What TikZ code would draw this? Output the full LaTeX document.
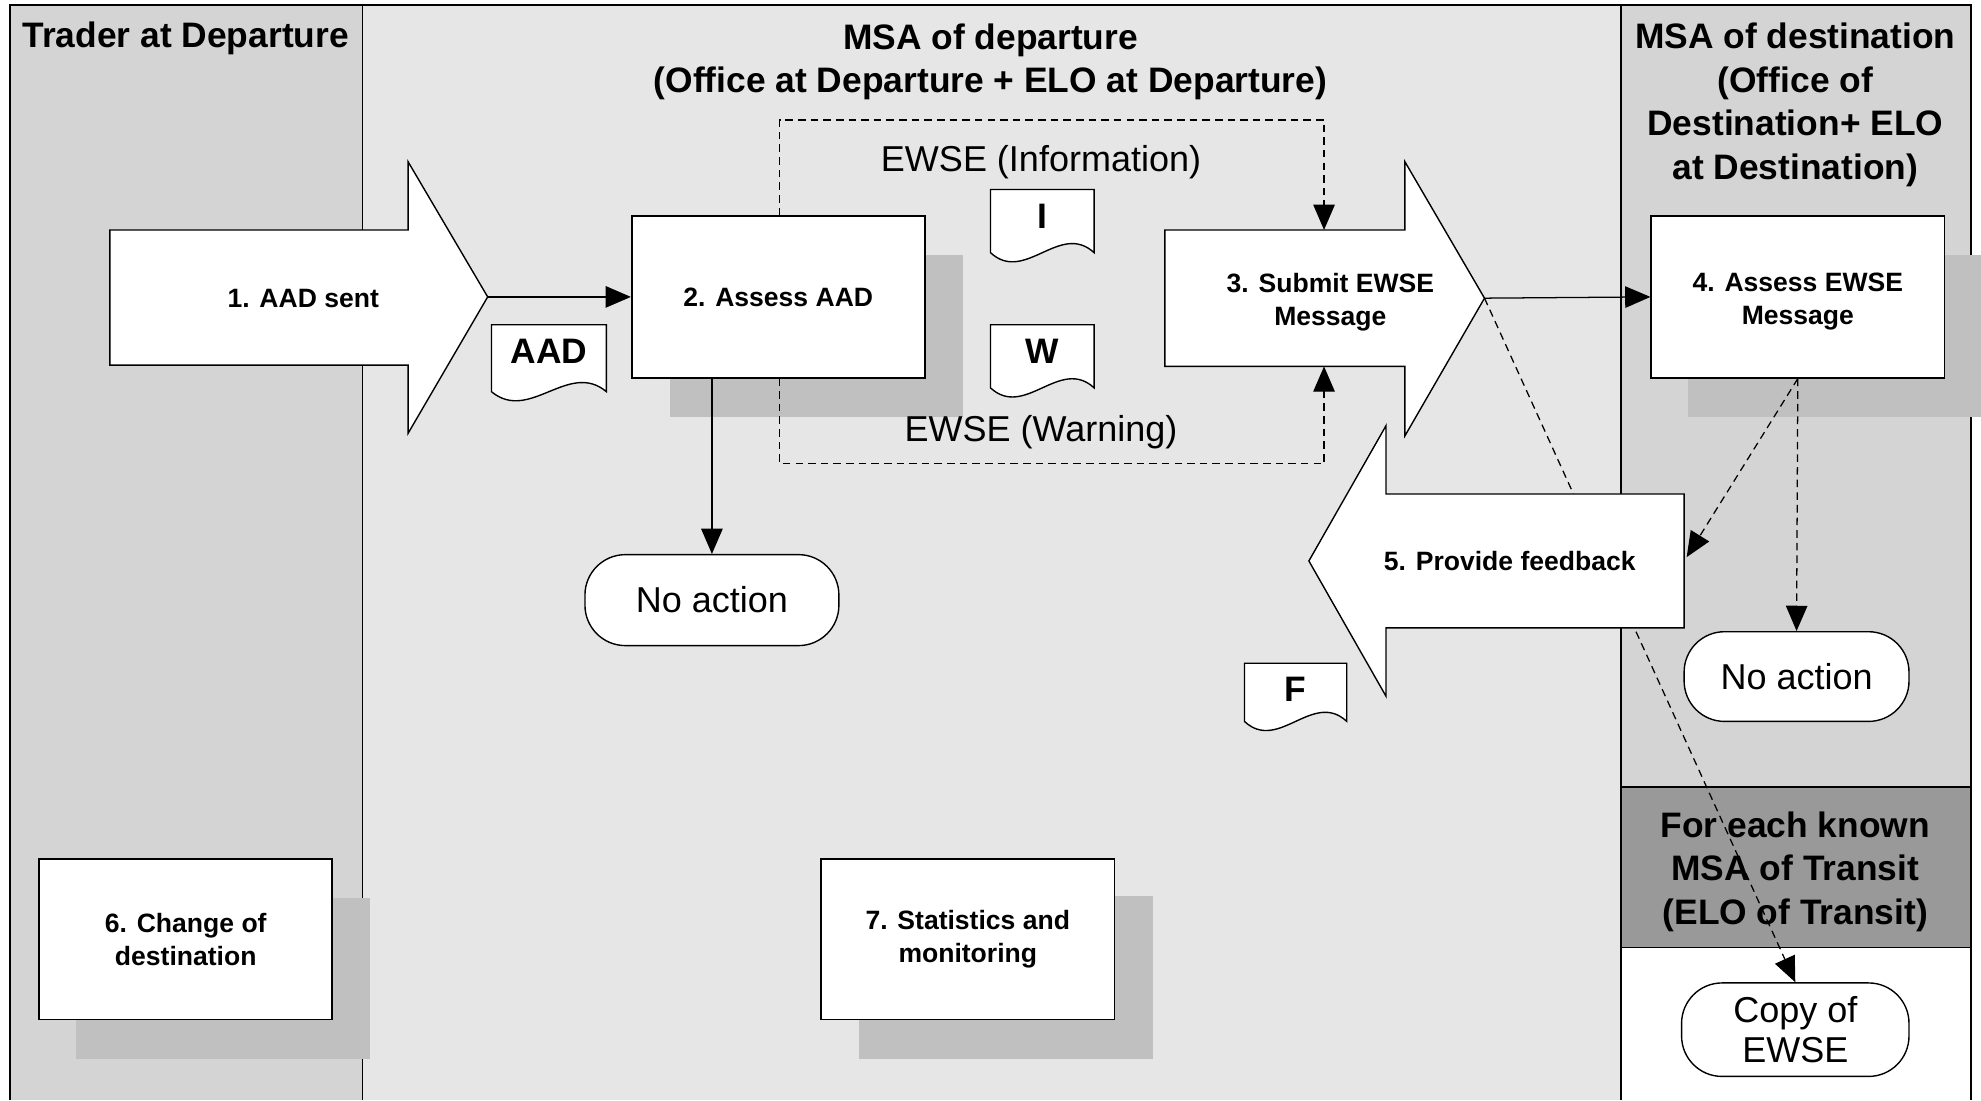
\documentclass[tikz,border=0pt]{standalone}
\usepackage{fontspec}
\setmainfont{Liberation Sans}
\usetikzlibrary{arrows.meta}
\definecolor{lanegray}{HTML}{D4D4D4}
\definecolor{midgray}{HTML}{E6E6E6}
\definecolor{shadowgray}{HTML}{C0C0C0}
\definecolor{transitgray}{HTML}{999999}
\pgfdeclarelayer{lanes}
\pgfdeclarelayer{shadows}
\pgfdeclarelayer{lines}
\pgfsetlayers{lanes,shadows,lines,main}
\newcommand{\docshape}[6]{%
  \draw[docst] (#2,#3) -- (#4,#3) -- (#4,#5)
    .. controls ({#4-0.33*(#4-#2)},{#5-25}) and ({#2+0.33*(#4-#2)},{#5+25}) .. (#2,#5) -- cycle;
  \node[doclbl] (#1) at ({(#2+#4)/2},{#3+21}) {#6};}
\newcommand{\lowtext}[1]{\raisebox{-3.5pt}[\height][\depth]{\parbox{200pt}{\centering #1}}}
\begin{document}
\begin{tikzpicture}[x=1pt,y=-1pt,
  hdr/.style={font=\fontsize{28}{34.5}\selectfont\bfseries, align=center, inner sep=0pt},
  boxlbl/.style={font=\fontsize{21}{26}\selectfont\bfseries, align=center},
  plain/.style={font=\fontsize{28.5}{32}\selectfont, align=center},
  box/.style={draw=black, line width=1.3pt, fill=white, boxlbl, inner sep=0pt},
  term/.style={draw=black, line width=1.1pt, fill=white, rounded corners=32pt, plain, inner sep=0pt},
  blockarrow/.style={draw=black, line width=1.1pt, fill=white},
  docst/.style={draw=black, line width=1.1pt, fill=white},
  doclbl/.style={font=\fontsize{28}{32}\selectfont\bfseries, inner sep=0pt},
  conn/.style={line width=1pt, -{Triangle[length=20pt,width=17pt]}},
  dconn/.style={conn, dash pattern=on 6pt off 4pt},
]
\useasboundingbox (0,0) rectangle (1568,871);

% lanes
\begin{pgfonlayer}{lanes}
\fill[midgray] (287,4) rectangle (1283,871);
\fill[lanegray] (8,4) rectangle (287,871);
\fill[lanegray] (1283,4) rectangle (1560,623);
\fill[transitgray] (1283,623) rectangle (1560,750);
\fill[white] (1283,750) rectangle (1560,871);
\draw[line width=1.2pt] (8,871) -- (8,4) -- (1560,4) -- (1560,871);
\draw[line width=1.2pt] (287,4) -- (287,871);
\draw[line width=1.2pt] (1283,4) -- (1283,871);
\draw[line width=1.2pt] (1283,623) -- (1560,623);
\draw[line width=1.2pt] (1283,750) -- (1560,750);
\end{pgfonlayer}

\node[hdr] (hTrader) at (147,30) {Trader at Departure};
\node[hdr] (hDep) at (784,49) {MSA of departure\\(Office at Departure + ELO at Departure)};
\node[hdr] (hDest) at (1421,83) {MSA of destination\\(Office of\\Destination+ ELO\\at Destination)};
\node[hdr] (hTransit) at (1421,690) {For each known\\MSA of Transit\\(ELO of Transit)};

% shadows
\begin{pgfonlayer}{shadows}
\fill[shadowgray] (530,202) rectangle (762,330);
\fill[shadowgray] (1336,202) rectangle (1568,330);
\fill[shadowgray] (60,711) rectangle (293,838);
\fill[shadowgray] (680,709) rectangle (913,838);
\end{pgfonlayer}

% boxes
\node[box, minimum width=232pt, minimum height=128pt] (b2) at (616,235) {2. Assess AAD};
\node[box, minimum width=232pt, minimum height=128pt] (b4) at (1423,235) {\lowtext{4. Assess EWSE\\Message}};
\node[box, minimum width=232pt, minimum height=127pt] (b6) at (147,743.5) {6. Change of\\destination};
\node[box, minimum width=232pt, minimum height=127pt] (b7) at (766,743.5) {7. Statistics and\\monitoring};

% block arrows
\draw[blockarrow] (87,182) -- (323,182) -- (323,128) -- (386,235) -- (323,343) -- (323,289) -- (87,289) -- cycle;
\node[boxlbl] (a1) at (240,236) {1. AAD sent};
\coordinate (a1tip) at (386,235);

\draw[blockarrow] (922,182) -- (1112,182) -- (1112,128) -- (1175,236) -- (1112,345) -- (1112,290) -- (922,290) -- cycle;
\node[boxlbl] (a3) at (1053,239) {3. Submit EWSE\\Message};
\coordinate (a3tip) at (1175,236);
\coordinate (a3top) at (1048,182);
\coordinate (a3bot) at (1048,290);

\draw[blockarrow] (1333,391) -- (1097,391) -- (1097,337) -- (1036,444) -- (1097,551) -- (1097,497) -- (1333,497) -- cycle;
\node[boxlbl] (a5) at (1195,444) {5. Provide feedback};
\coordinate (a5right) at (1335,441);

% documents
\docshape{dAAD}{389}{257}{480}{310}{AAD}
\docshape{dI}{784}{150}{866}{200}{I}
\docshape{dW}{784}{257}{866}{307}{W}
\docshape{dF}{985}{525}{1066}{571}{F}

% terminators
\node[term, minimum width=201pt, minimum height=72pt] (na1) at (563.5,475) {No action};
\node[term, minimum width=178pt, minimum height=71pt] (na2) at (1422,535.5) {No action};
\node[term, minimum width=180pt, minimum height=74pt] (copy) at (1421,815) {Copy of\\EWSE};

% labels
\node[plain] (lInfo) at (824,128) {EWSE (Information)};
\node[plain] (lWarn) at (824,342) {EWSE (Warning)};

\coordinate (d1) at (617,95);
\coordinate (d2) at (617,367);

% connectors
\begin{pgfonlayer}{lines}
\draw[conn] (a1tip) -- (b2.west);
\draw[conn] (na1.north |- b2.south) -- (na1.north);
\draw[dconn] (b2.north -| d1) -- (d1) -- (d1 -| a3top) -- (a3top);
\draw[dconn] (b2.south -| d2) -- (d2) -- (d2 -| a3bot) -- (a3bot);
\draw[conn] (a3tip) -- (b4.west);
\draw[dconn] (a3tip) -- (copy.north);
\draw[dconn] (b4.south) -- (a5right);
\draw[dconn] (b4.south) -- (na2.north);
\end{pgfonlayer}
\end{tikzpicture}
\end{document}
